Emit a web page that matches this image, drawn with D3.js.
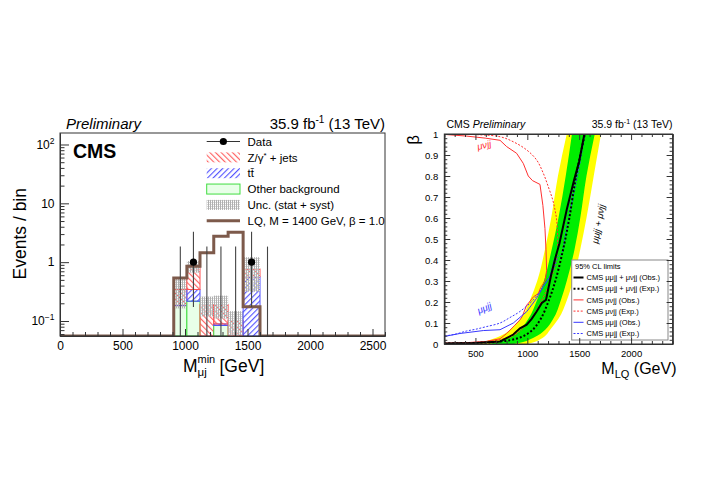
<!DOCTYPE html>
<html lang="en">
<head>
<meta charset="UTF-8">
<title>LQ mu-mu-jj / mu-nu-jj</title>
<script src="https://d3js.org/d3.v7.min.js"></script>
<style>
  body { margin: 0; background: #fff; }
  svg { font-family: "Liberation Sans", Arial, sans-serif; }
  .axis path, .axis line { stroke: #333; stroke-width: 1; }
  .axis text { fill: #000; }
</style>
</head>
<body>
<svg id="chart" width="708" height="501"></svg>
<script>
// ---------- left panel: M_uj^min distribution ----------
const binEdges   = [910, 1015, 1120, 1230, 1345, 1465, 1600, 1720];
const dataCounts = [0, 1, 0, 0, 0, 1, 0];
const dataErrLo  = [0, 0.827, 0, 0, 0, 0.827, 0];
const dataErrHi  = [1.84, 2.30, 1.84, 1.84, 1.84, 2.30, 1.84];
const otherBkg   = [0.184, 0.217, 0.010, 0.084, 0.005, 0.005, 0];
const ttbarBkg   = [0.005, 0.126, 0.005, 0.005, 0.005, 0.560, 0];
const zjetsBkg   = [0.155, 0.512, 0.175, 0.101, 0.092, 0.200, 0];
const bkgUnc     = [0.18, 0.19, 0.07, 0.08, 0.045, 0.45, 0];
const lqSignal   = [0.54, 0.855, 1.44, 2.77, 3.23, 0.175, 0];
const leftXTicks = [0, 500, 1000, 1500, 2000, 2500];
const leftYTicks = [0.1, 1, 10, 100];

// ---------- right panel: beta vs M_LQ limits ----------
const bandBeta = [0, 0.01, 0.03, 0.067, 0.12, 0.21, 0.3, 0.45, 0.6, 0.8, 1.0];
const band2Lo  = [470, 570, 700, 833, 935, 1026, 1095, 1170, 1230, 1295, 1380];
const band1Lo  = [620, 720, 830, 929, 1010, 1094, 1160, 1235, 1300, 1370, 1430];
const band1Hi  = [870, 960, 1060, 1170, 1250, 1324, 1380, 1455, 1510, 1570, 1650];
const band2Hi  = [1000, 1070, 1150, 1218, 1300, 1382, 1440, 1510, 1570, 1640, 1710];

const combExp = [[200,0.002],[450,0.004],[650,0.008],[830,0.018],[950,0.035],[1050,0.067],[1130,0.12],
  [1209,0.21],[1270,0.3],[1345,0.45],[1405,0.6],[1470,0.8],[1555,1.0]];
const combObs = [[200,0.002],[500,0.005],[737,0.012],[865,0.045],[929,0.075],[994,0.092],[1042,0.12],
  [1090,0.155],[1140,0.195],[1180,0.21],[1230,0.33],[1270,0.41],[1310,0.48],[1380,0.64],[1450,0.78],
  [1500,0.87],[1550,1.0]];
const mumuObs = [[200,0.036],[350,0.05],[576,0.064],[737,0.068],[865,0.1],[994,0.154],[1090,0.218],
  [1154,0.274],[1218,0.32],[1260,0.4],[1283,0.43],[1320,0.5],[1380,0.63],[1450,0.77],[1500,0.87],[1550,1.0]];
const mumuExp = [[200,0.038],[300,0.046],[416,0.062],[500,0.07],[600,0.082],[737,0.1],[829,0.125],
  [929,0.155],[1057,0.21],[1154,0.274],[1250,0.352],[1298,0.416],[1330,0.43],[1370,0.53],[1420,0.65],
  [1470,0.77],[1510,0.87],[1555,1.0]];
const munuObs = [[200,0.998],[416,0.99],[600,0.98],[737,0.97],[801,0.94],[897,0.908],[961,0.86],
  [1009,0.8],[1050,0.778],[1122,0.76],[1150,0.66],[1170,0.55],[1180,0.45],[1186,0.35],[1170,0.3],
  [1130,0.27],[1106,0.24],[1060,0.225],[1020,0.2],[994,0.185],[950,0.13],[929,0.115],[881,0.09],
  [801,0.05],[737,0.025],[600,0.012],[400,0.006],[200,0.004]];
const munuExp = [[200,1.0],[500,0.997],[737,0.987],[865,0.963],[994,0.924],[1090,0.876],[1154,0.813],
  [1202,0.749],[1245,0.686],[1267,0.638],[1283,0.59],[1292,0.5],[1285,0.42],[1260,0.36],[1220,0.3],
  [1180,0.25],[1120,0.19],[1050,0.13],[980,0.085],[900,0.05],[800,0.028],[650,0.014],[450,0.007],[200,0.004]];
const rightXTicks = [500, 1000, 1500, 2000];
const rightYTicks = [0, 0.1, 0.2, 0.3, 0.4, 0.5, 0.6, 0.7, 0.8, 0.9, 1];

const svg = d3.select("#chart");
const defs = svg.append("defs");

// hatch patterns
function hatch(id, color, angle, gap) {
  const p = defs.append("pattern").attr("id", id).attr("patternUnits", "userSpaceOnUse")
    .attr("width", gap).attr("height", gap).attr("patternTransform", `rotate(${angle})`);
  p.append("line").attr("x1", 0.6).attr("y1", 0).attr("x2", 0.6).attr("y2", gap)
    .attr("stroke", color).attr("stroke-width", 1.1);
}
hatch("zHatch", "#ff5a5a", -45, 4);
hatch("ttHatch", "#4d4dff", 45, 4);
const up = defs.append("pattern").attr("id", "uncPat").attr("patternUnits", "userSpaceOnUse")
  .attr("width", 2).attr("height", 2);
up.append("rect").attr("width", 1).attr("height", 2).attr("fill", "#b0b0b0");
up.append("rect").attr("x", 1).attr("width", 1).attr("height", 1).attr("fill", "#d8d8d8");

// ================= LEFT PANEL =================
const xL = d3.scaleLinear([0, 2600], [60, 385]);
const yL = d3.scaleLog([0.0556, 156.8], [336, 133]);
const yMinL = yL.domain()[0];

defs.append("clipPath").attr("id", "clipL").append("rect")
  .attr("x", 60).attr("y", 133).attr("width", 325).attr("height", 203);
const gL = svg.append("g").attr("clip-path", "url(#clipL)");

const comps = [
  { vals: otherBkg, fill: "#e8ffe8", stroke: "#40dd40" },
  { vals: ttbarBkg, fill: "url(#ttHatch)", stroke: "#5050ff" },
  { vals: zjetsBkg, fill: "url(#zHatch)", stroke: "#ff5050" }
];
binEdges.slice(0, -1).forEach((lo, i) => {
  const hi = binEdges[i + 1];
  let cum = 0;
  comps.forEach(c => {
    const v = c.vals[i];
    if (v <= 0) return;
    const top = cum + v;
    const bot = Math.max(cum, yMinL);
    cum = top;
    if (top <= yMinL) return;
    gL.append("rect")
      .attr("x", xL(lo)).attr("width", xL(hi) - xL(lo))
      .attr("y", yL(top)).attr("height", yL(bot) - yL(top))
      .attr("fill", c.fill).attr("stroke", c.stroke).attr("stroke-width", 1);
  });
  if (bkgUnc[i] > 0) {
    const uHi = cum + bkgUnc[i], uLo = Math.max(cum - bkgUnc[i], yMinL);
    gL.append("rect")
      .attr("x", xL(lo)).attr("width", xL(hi) - xL(lo))
      .attr("y", yL(uHi)).attr("height", yL(uLo) - yL(uHi))
      .attr("fill", "url(#uncPat)");
  }
});

// LQ signal step line
const lqPoints = [[xL.domain()[0], 0]]
  .concat(binEdges.slice(0, -1).map((e, i) => [e, lqSignal[i]]))
  .concat([[binEdges[binEdges.length - 1], 0], [xL.domain()[1], 0]]);
gL.append("path")
  .attr("d", d3.line().curve(d3.curveStepAfter)
    .x(d => xL(d[0])).y(d => yL(Math.max(d[1], yMinL)))(lqPoints))
  .attr("fill", "none").attr("stroke", "#7d5a4b").attr("stroke-width", 3);

// data points with error bars
binEdges.slice(0, -1).forEach((lo, i) => {
  const c = (lo + binEdges[i + 1]) / 2;
  const lowV = Math.max(dataCounts[i] - dataErrLo[i], yMinL);
  gL.append("line").attr("x1", xL(c)).attr("x2", xL(c))
    .attr("y1", yL(lowV)).attr("y2", yL(dataCounts[i] + dataErrHi[i]))
    .attr("stroke", "#444").attr("stroke-width", 1.1);
  if (dataCounts[i] > 0) {
    gL.append("circle").attr("cx", xL(c)).attr("cy", yL(dataCounts[i])).attr("r", 3.6).attr("fill", "#000");
  }
});

// left axes
svg.append("rect").attr("x", 60).attr("y", 133).attr("width", 325).attr("height", 203)
  .attr("fill", "none").attr("stroke", "#333");
svg.append("g").attr("class", "axis").attr("transform", "translate(0,336)")
  .call(d3.axisBottom(xL).tickValues(leftXTicks).tickSize(-7).tickSizeOuter(0).tickPadding(5.5)
    .tickFormat(d3.format("d")))
  .call(g => g.selectAll("text").attr("font-size", 12));
svg.append("g").attr("class", "axis").attr("transform", "translate(0,336)")
  .call(d3.axisBottom(xL).tickValues(d3.range(0, 2601, 100).filter(v => v % 500 !== 0))
    .tickSize(-4).tickSizeOuter(0).tickFormat(""));
const minorLog = [];
[0.01, 0.1, 1, 10, 100].forEach(d => { for (let k = 2; k <= 9; k++) minorLog.push(d * k); });
svg.append("g").attr("class", "axis").attr("transform", "translate(60,0)")
  .call(d3.axisLeft(yL).tickValues(leftYTicks).tickSize(-9).tickSizeOuter(0).tickFormat(""));
svg.append("g").attr("class", "axis").attr("transform", "translate(60,0)")
  .call(d3.axisLeft(yL).tickValues(minorLog.filter(v => v > yMinL && v < yL.domain()[1]))
    .tickSize(-4.5).tickSizeOuter(0).tickFormat(""));

const yLab = { 0.1: ["10", "\u22121"], 1: ["1", ""], 10: ["10", ""], 100: ["10", "2"] };
leftYTicks.forEach(d => {
  const t = svg.append("text").attr("x", 54.5).attr("y", yL(d) + 4.2)
    .attr("text-anchor", "end").attr("font-size", 12).text(yLab[d][0]);
  if (yLab[d][1]) t.append("tspan").attr("dy", -5).attr("font-size", 8.5).text(yLab[d][1]);
});

// left titles
svg.append("text").attr("transform", "translate(26,188) rotate(-90)")
  .attr("text-anchor", "end").attr("font-size", 17.5).text("Events / bin");
svg.append("text").attr("x", 183).attr("y", 371.5).attr("font-size", 17.5).text("M");
svg.append("text").attr("x", 197.5).attr("y", 376).attr("font-size", 11.5).text("\u03bcj");
svg.append("text").attr("x", 197.5).attr("y", 362.5).attr("font-size", 11).text("min");
svg.append("text").attr("x", 219.5).attr("y", 371.5).attr("font-size", 17.5).text("[GeV]");
svg.append("text").attr("x", 66).attr("y", 129).attr("font-size", 15).attr("font-style", "italic").text("Preliminary");
const lumiL = svg.append("text").attr("x", 385).attr("y", 129).attr("text-anchor", "end").attr("font-size", 15);
lumiL.append("tspan").text("35.9 fb");
lumiL.append("tspan").attr("dy", -6).attr("font-size", 10).text("-1");
lumiL.append("tspan").attr("dy", 6).text(" (13 TeV)");
svg.append("text").attr("x", 73).attr("y", 157.5).attr("font-size", 19.5).attr("font-weight", "bold").text("CMS");

// left legend
const legL = ["Data", "Z/\u03b3*", "tt\u0304", "Other background", "Unc. (stat + syst)", "LQ, M = 1400 GeV, \u03b2 = 1.0"];
legL.forEach((lab, i) => {
  const cy = 141.5 + i * 15.85;
  const x0 = 206.7, x1 = 240;
  if (i === 0) {
    svg.append("line").attr("x1", x0).attr("x2", x1).attr("y1", cy).attr("y2", cy).attr("stroke", "#333");
    svg.append("circle").attr("cx", (x0 + x1) / 2).attr("cy", cy).attr("r", 3.6).attr("fill", "#000");
  } else if (i === 5) {
    svg.append("line").attr("x1", x0).attr("x2", x1).attr("y1", cy).attr("y2", cy)
      .attr("stroke", "#7d5a4b").attr("stroke-width", 3);
  } else {
    const fills = [null, "url(#zHatch)", "url(#ttHatch)", "#e8ffe8", "url(#uncPat)"];
    const strokes = [null, "none", "none", "#40dd40", "none"];
    svg.append("rect").attr("x", x0).attr("y", cy - 5).attr("width", x1 - x0).attr("height", 10)
      .attr("fill", fills[i]).attr("stroke", strokes[i]);
  }
  const t = svg.append("text").attr("x", 247.5).attr("y", cy + 4.2).attr("font-size", 11.5);
  if (i === 1) {
    t.append("tspan").text("Z/\u03b3");
    t.append("tspan").attr("dy", -4).attr("font-size", 8).text("*");
    t.append("tspan").attr("dy", 4).text(" + jets");
  } else {
    t.text(lab);
  }
});

// ================= RIGHT PANEL =================
const xR = d3.scaleLinear([200, 2400], [444.3, 672.6]);
const yR = d3.scaleLinear([0, 1], [344, 134]);

defs.append("clipPath").attr("id", "clipR").append("rect")
  .attr("x", 444.3).attr("y", 134).attr("width", 228.3).attr("height", 210);
const gR = svg.append("g").attr("clip-path", "url(#clipR)");

const band = (lo, hi) => d3.area().curve(d3.curveMonotoneY)
  .y(b => yR(b)).x0((b, i) => xR(lo[i])).x1((b, i) => xR(hi[i]))(bandBeta);
gR.append("path").attr("d", band(band2Lo, band2Hi)).attr("fill", "#ffff00");
gR.append("path").attr("d", band(band1Lo, band1Hi)).attr("fill", "#00ee00");

const lineLin = d3.line().x(d => xR(d[0])).y(d => yR(d[1]));
const lineSm = d3.line().curve(d3.curveCatmullRom.alpha(0.5)).x(d => xR(d[0])).y(d => yR(d[1]));
const curves = [
  { pts: munuExp, gen: lineSm, color: "#ff3030", w: 1, dash: "2,1.6" },
  { pts: munuObs, gen: lineLin, color: "#ff3030", w: 1, dash: null },
  { pts: mumuExp, gen: lineSm, color: "#3838ff", w: 1, dash: "2,1.6" },
  { pts: mumuObs, gen: lineLin, color: "#3838ff", w: 1, dash: null },
  { pts: combExp, gen: lineSm, color: "#000", w: 2, dash: "2,2" },
  { pts: combObs, gen: lineLin, color: "#000", w: 2, dash: null }
];
curves.forEach(c => {
  gR.append("path").attr("d", c.gen(c.pts)).attr("fill", "none")
    .attr("stroke", c.color).attr("stroke-width", c.w).attr("stroke-dasharray", c.dash);
});

// curve labels
svg.append("text").attr("transform", "translate(478,150) rotate(-14)")
  .attr("font-size", 9.5).attr("font-style", "italic").attr("fill", "#ff3030").text("\u03bc\u03bdjj");
svg.append("text").attr("transform", "translate(479,314) rotate(-24)")
  .attr("font-size", 9.5).attr("font-style", "italic").attr("fill", "#3838ff").text("\u03bc\u03bcjj");
svg.append("text").attr("transform", "translate(598,244) rotate(-80)")
  .attr("font-size", 9.5).attr("font-style", "italic").attr("fill", "#000").text("\u03bc\u03bcjj + \u03bc\u03bdjj");

// right legend
svg.append("rect").attr("x", 571.7).attr("y", 260).attr("width", 96.3).attr("height", 80)
  .attr("fill", "#fff").attr("stroke", "#888");
svg.append("text").attr("x", 575).attr("y", 268.5).attr("font-size", 7.5).text("95% CL limits");
const legR = [
  "CMS \u03bc\u03bcjj + \u03bc\u03bdjj (Obs.)",
  "CMS \u03bc\u03bcjj + \u03bc\u03bdjj (Exp.)",
  "CMS \u03bc\u03bdjj (Obs.)",
  "CMS \u03bc\u03bdjj (Exp.)",
  "CMS \u03bc\u03bcjj (Obs.)",
  "CMS \u03bc\u03bcjj (Exp.)"
];
const legOrder = [5, 4, 1, 0, 3, 2];
legR.forEach((lab, i) => {
  const cy = 277.5 + i * 11.2;
  const c = curves[legOrder[i]];
  svg.append("line").attr("x1", 573.5).attr("x2", 583.5).attr("y1", cy).attr("y2", cy)
    .attr("stroke", c.color).attr("stroke-width", c.w).attr("stroke-dasharray", c.dash);
  svg.append("text").attr("x", 586.5).attr("y", cy + 2.7).attr("font-size", 7.5).text(lab);
});

// right frame and axes
svg.append("rect").attr("x", 444.3).attr("y", 134).attr("width", 228.3).attr("height", 210)
  .attr("fill", "none").attr("stroke", "#333");
const minorX = d3.range(200, 2401, 100).filter(v => v % 500 !== 0);
const minorY = d3.range(0, 51).map(k => k / 50).filter((v, k) => k % 5 !== 0);
svg.append("g").attr("class", "axis").attr("transform", "translate(0,344)")
  .call(d3.axisBottom(xR).tickValues(rightXTicks).tickSize(-6).tickSizeOuter(0).tickPadding(6)
    .tickFormat(d3.format("d")))
  .call(g => g.selectAll("text").attr("font-size", 9.5));
svg.append("g").attr("class", "axis").attr("transform", "translate(0,344)")
  .call(d3.axisBottom(xR).tickValues(minorX).tickSize(-3).tickSizeOuter(0).tickFormat(""));
svg.append("g").attr("class", "axis").attr("transform", "translate(0,134)")
  .call(d3.axisTop(xR).tickValues(rightXTicks).tickSize(-6).tickSizeOuter(0).tickFormat(""));
svg.append("g").attr("class", "axis").attr("transform", "translate(0,134)")
  .call(d3.axisTop(xR).tickValues(minorX).tickSize(-3).tickSizeOuter(0).tickFormat(""));
svg.append("g").attr("class", "axis").attr("transform", "translate(444.3,0)")
  .call(d3.axisLeft(yR).tickValues(rightYTicks).tickSize(-6).tickSizeOuter(0).tickPadding(6)
    .tickFormat(d3.format("~g")))
  .call(g => g.selectAll("text").attr("font-size", 9.5));
svg.append("g").attr("class", "axis").attr("transform", "translate(444.3,0)")
  .call(d3.axisLeft(yR).tickValues(minorY).tickSize(-3).tickSizeOuter(0).tickFormat(""));
svg.append("g").attr("class", "axis").attr("transform", "translate(672.6,0)")
  .call(d3.axisRight(yR).tickValues(rightYTicks).tickSize(-6).tickSizeOuter(0).tickFormat(""));
svg.append("g").attr("class", "axis").attr("transform", "translate(672.6,0)")
  .call(d3.axisRight(yR).tickValues(minorY).tickSize(-3).tickSizeOuter(0).tickFormat(""));

// right titles
svg.append("text").attr("transform", "translate(418.5,135) rotate(-90)")
  .attr("text-anchor", "end").attr("font-size", 17).text("\u03b2");
const xtR = svg.append("text").attr("x", 676.5).attr("y", 373.5).attr("text-anchor", "end").attr("font-size", 16);
xtR.append("tspan").text("M");
xtR.append("tspan").attr("dy", 4).attr("font-size", 11).text("LQ");
xtR.append("tspan").attr("dy", -4).text(" (GeV)");
const cmsR = svg.append("text").attr("x", 446.5).attr("y", 128).attr("font-size", 10.5);
cmsR.append("tspan").text("CMS ");
cmsR.append("tspan").attr("font-style", "italic").text("Preliminary");
const lumiR = svg.append("text").attr("x", 672.5).attr("y", 128).attr("text-anchor", "end").attr("font-size", 10.5);
lumiR.append("tspan").text("35.9 fb");
lumiR.append("tspan").attr("dy", -4).attr("font-size", 7).text("-1");
lumiR.append("tspan").attr("dy", 4).text(" (13 TeV)");
</script>
</body>
</html>
